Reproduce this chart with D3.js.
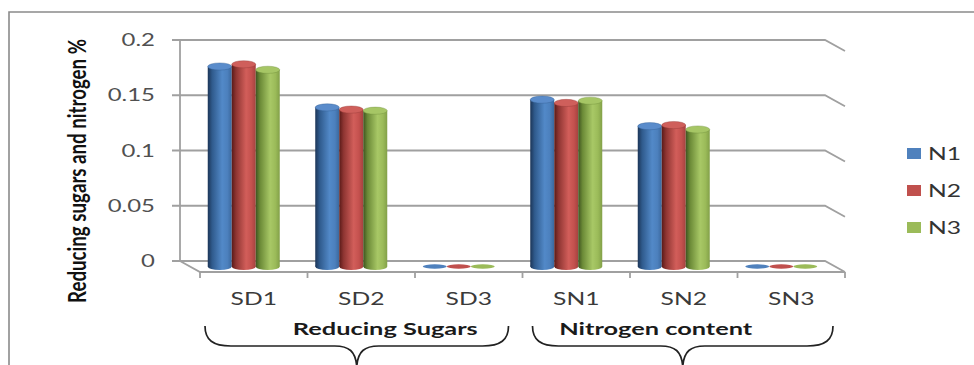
<!DOCTYPE html>
<html>
<head>
<meta charset="utf-8">
<script src="https://cdn.jsdelivr.net/npm/d3@7"></script>
<style>
  html, body { margin: 0; padding: 0; background: #fff; }
  svg { display: block; }
</style>
</head>
<body>
<script>
// ---- data ----
const categories = ["SD1", "SD2", "SD3", "SN1", "SN2", "SN3"];
const seriesNames = ["N1", "N2", "N3"];
const n1Values = [0.181, 0.144, 0, 0.151, 0.127, 0];
const n2Values = [0.183, 0.142, 0, 0.148, 0.128, 0];
const n3Values = [0.178, 0.141, 0, 0.150, 0.124, 0];
const yTicks = [0, 0.05, 0.1, 0.15, 0.2];
const yTickLabels = ["0", "0.05", "0.1", "0.15", "0.2"];
const groupLabels = ["Reducing Sugars", "Nitrogen content"];
const groupMembers = [["SD1", "SD2", "SD3"], ["SN1", "SN2", "SN3"]];
const yTitle = "Reducing sugars and nitrogen %";

const seriesValues = [n1Values, n2Values, n3Values];

// ---- layout ----
const W = 974, H = 365;
const FONT = "Lato, 'Open Sans', 'Liberation Sans', sans-serif";
const STRETCH = 1.45;          // wide text rendering
const depth = { dx: 20, dy: 11 };
const wall = { left: 180, right: 825 };
const gridColor = "#a0a0a0";

const palette = {
  N1: { base: "#4F81BD", stops: ["#1c3557", "#2f5a8c", "#5289c8", "#4c80bd", "#3b689d"], top: "#5a8ccb" },
  N2: { base: "#C0504D", stops: ["#5a1a18", "#8e3532", "#d25e5a", "#c4514e", "#a5423f"], top: "#cf5f5b" },
  N3: { base: "#9BBB59", stops: ["#3f5420", "#6b8a37", "#a8c866", "#9bbb59", "#82a048"], top: "#a6c665" }
};

const svg = d3.select("body").append("svg")
  .attr("width", W).attr("height", H);

// outer chart frame
svg.append("path")
  .attr("d", `M9,${H} L9,12 L${W},12`)
  .attr("fill", "none").attr("stroke", "#8a8a8a").attr("stroke-width", 1.6);

// scales: back wall, front edge and mid-depth (where the bars stand)
const yBack = d3.scaleLinear().domain([0, 0.2]).range([261, 40]);
const yMid = v => yBack(v) + depth.dy / 2;
const x = d3.scaleBand().domain(categories)
  .range([wall.left + depth.dx, wall.right + depth.dx]).padding(0);
const groupWidth = 72;
const xs = d3.scaleBand().domain(seriesNames).range([0, groupWidth]).padding(0);
const barW = xs.bandwidth();
const barLeft = (cat, s) => x(cat) + (x.bandwidth() - groupWidth) / 2 - depth.dx / 2 + xs(s);

// gradients for the cylinders
const defs = svg.append("defs");
seriesNames.forEach(s => {
  const g = defs.append("linearGradient").attr("id", "cyl-" + s)
    .attr("x1", 0).attr("x2", 1).attr("y1", 0).attr("y2", 0);
  const offs = [0, 0.18, 0.6, 0.82, 1];
  palette[s].stops.forEach((c, i) => g.append("stop").attr("offset", offs[i]).attr("stop-color", c));
});

// gridlines on back wall with side returns
const grid = svg.append("g").attr("fill", "none").attr("stroke", gridColor).attr("stroke-width", 1.8);
yTicks.forEach(t => {
  const yy = yBack(t);
  grid.append("path").attr("d",
    `M${wall.left - 8},${yy} L${wall.right},${yy} L${wall.right + depth.dx},${yy + depth.dy}`);
});
// vertical axis line
grid.append("line")
  .attr("x1", wall.left).attr("x2", wall.left)
  .attr("y1", yBack(0.2)).attr("y2", yBack(0));
// floor: left diagonal and front edge
const frontY = yBack(0) + depth.dy;
grid.append("path").attr("d",
  `M${wall.left},${yBack(0)} L${wall.left + depth.dx},${frontY} L${wall.right + depth.dx},${frontY}`);
// category ticks on the front edge
const tickXs = categories.map(c => x(c)).concat([x.range()[1]]);
tickXs.forEach(tx => grid.append("line")
  .attr("x1", tx).attr("x2", tx).attr("y1", frontY).attr("y2", frontY + 6));

// horizontally widened text
function stretched(parent, tx, ty, txt, opts) {
  const g = parent.append("g").attr("transform", `translate(${tx},${ty}) scale(${STRETCH},1)`);
  return g.append("text").text(txt)
    .attr("text-anchor", opts.anchor || "start")
    .attr("font-family", FONT)
    .attr("font-size", opts.size || 15)
    .attr("font-weight", opts.weight || "normal")
    .attr("fill", opts.fill || "#404040");
}

// y tick labels
yTicks.forEach((t, i) => {
  stretched(svg, 155, yBack(t) + 6, yTickLabels[i], { anchor: "end", size: 16.5, fill: "#505050" });
});

// cylinders
const bars = svg.append("g");
categories.forEach((cat, ci) => {
  seriesNames.forEach((s, si) => {
    const v = seriesValues[si][ci];
    const x0 = barLeft(cat, s);
    const cx = x0 + barW / 2;
    const rx = barW / 2;
    const yb = yMid(0);
    if (v <= 0) {
      bars.append("ellipse")
        .attr("cx", cx).attr("cy", yb).attr("rx", rx).attr("ry", 2.2)
        .attr("fill", palette[s].base);
      return;
    }
    const yt = yMid(v);
    const ry = 3.6;
    bars.append("ellipse")
      .attr("cx", cx).attr("cy", yb).attr("rx", rx).attr("ry", ry)
      .attr("fill", `url(#cyl-${s})`);
    bars.append("rect")
      .attr("x", x0).attr("y", yt).attr("width", barW).attr("height", yb - yt)
      .attr("fill", `url(#cyl-${s})`);
    bars.append("ellipse")
      .attr("cx", cx).attr("cy", yt).attr("rx", rx).attr("ry", ry)
      .attr("fill", palette[s].top)
      .attr("stroke", palette[s].stops[1]).attr("stroke-width", 0.6).attr("stroke-opacity", 0.6);
  });
});

// category labels
categories.forEach(cat => {
  stretched(svg, x(cat) + x.bandwidth() / 2, 305, cat, { anchor: "middle", size: 17, fill: "#3a3a3a" });
});

// group labels and braces
const labelShift = [24, -28];
const braceInset = [[5, 14], [10, 12]];
groupMembers.forEach((members, gi) => {
  const gx0 = x(members[0]);
  const gx1 = x(members[members.length - 1]) + x.bandwidth();
  const gc = (gx0 + gx1) / 2;
  stretched(svg, gc + labelShift[gi], 335, groupLabels[gi],
    { anchor: "middle", size: 17.5, weight: "bold", fill: "#1a1a1a" });

  const b0 = gx0 + braceInset[gi][0];
  const b1 = gx1 - braceInset[gi][1];
  const bm = (b0 + b1) / 2;
  const yTip = 326, yLine = 346, yPoint = 367;
  const p = d3.path();
  p.moveTo(b0, yTip);
  p.bezierCurveTo(b0, yLine - 6, b0 + 8, yLine, b0 + 26, yLine);
  p.lineTo(bm - 22, yLine);
  p.bezierCurveTo(bm - 8, yLine, bm - 1, yLine + 5, bm, yPoint);
  p.moveTo(bm, yPoint);
  p.bezierCurveTo(bm + 1, yLine + 5, bm + 8, yLine, bm + 22, yLine);
  p.lineTo(b1 - 26, yLine);
  p.bezierCurveTo(b1 - 8, yLine, b1, yLine - 6, b1, yTip);
  svg.append("path").attr("d", p.toString())
    .attr("fill", "none").attr("stroke", "#222").attr("stroke-width", 1.7);
});

// y axis title
svg.append("g")
  .attr("transform", `translate(86,171) scale(1.6,1) rotate(-90)`)
  .append("text").text(yTitle)
  .attr("text-anchor", "middle")
  .attr("font-family", "'Liberation Sans Narrow', " + FONT)
  .attr("font-size", 15.5).attr("font-weight", "bold").attr("fill", "#111")
  .attr("textLength", 264).attr("lengthAdjust", "spacingAndGlyphs");

// legend
const legend = svg.append("g");
seriesNames.forEach((s, i) => {
  const cy = 153.5 + i * 37;
  legend.append("rect")
    .attr("x", 907).attr("y", cy - 5.5).attr("width", 14).attr("height", 11)
    .attr("fill", palette[s].base);
  stretched(legend, 928, cy + 6, s, { size: 17, fill: "#333" });
});
</script>
</body>
</html>
